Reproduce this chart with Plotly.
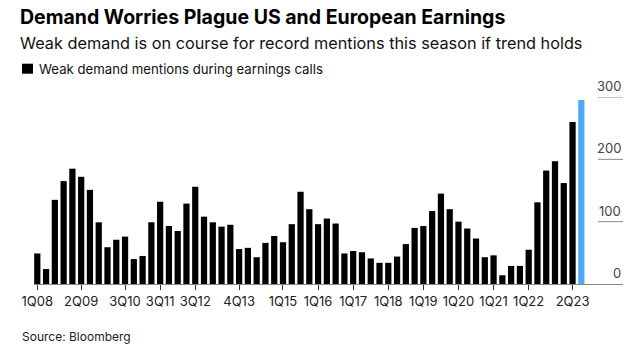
import plotly.graph_objects as go

quarters = [
    "1Q08", "2Q08", "3Q08", "4Q08", "1Q09", "2Q09", "3Q09", "4Q09",
    "1Q10", "2Q10", "3Q10", "4Q10", "1Q11", "2Q11", "3Q11", "4Q11",
    "1Q12", "2Q12", "3Q12", "4Q12", "1Q13", "2Q13", "3Q13", "4Q13",
    "1Q14", "2Q14", "3Q14", "4Q14", "1Q15", "2Q15", "3Q15", "4Q15",
    "1Q16", "2Q16", "3Q16", "4Q16", "1Q17", "2Q17", "3Q17", "4Q17",
    "1Q18", "2Q18", "3Q18", "4Q18", "1Q19", "2Q19", "3Q19", "4Q19",
    "1Q20", "2Q20", "3Q20", "4Q20", "1Q21", "2Q21", "3Q21", "4Q21",
    "1Q22", "2Q22", "3Q22", "4Q22", "1Q23", "2Q23", "3Q23",
]
mentions = [
    49, 24, 135, 165, 185, 172, 151, 99,
    59, 71, 76, 40, 45, 99, 132, 93,
    85, 129, 156, 108, 99, 92, 95, 56,
    58, 43, 66, 77, 67, 96, 148, 120,
    96, 105, 97, 49, 53, 51, 41, 34,
    34, 44, 64, 90, 93, 117, 145, 120,
    100, 89, 73, 43, 46, 14, 29, 29,
    55, 131, 182, 197, 162, 260, 295,
]
x_tick_labels = ["1Q08", "2Q09", "3Q10", "3Q11", "3Q12", "4Q13", "1Q15", "1Q16",
                 "1Q17", "1Q18", "1Q19", "1Q20", "1Q21", "1Q22", "2Q23"]
y_ticks = [0, 100, 200, 300]

title = "Demand Worries Plague US and European Earnings"
subtitle = "Weak demand is on course for record mentions this season if trend holds"
legend_label = "Weak demand mentions during earnings calls"
source = "Source: Bloomberg"

BLACK = "#000000"
BLUE = "#4fa8f6"
colors = [BLACK] * (len(quarters) - 1) + [BLUE]

W, H = 640, 348
L, R = 34, 623
T, B = 97.3, 284.3
FONT = "Inter, 'Liberation Sans', Arial, sans-serif"


def px(xp):
    return (xp - L) / (R - L)


def py(yp):
    return (B - yp) / (B - T)


fig = go.Figure(
    go.Bar(
        x=quarters,
        y=mentions,
        marker=dict(color=colors, line=dict(width=0)),
        showlegend=False,
        hoverinfo="x+y",
    )
)

fig.update_layout(
    width=W,
    height=H,
    margin=dict(l=L, r=W - R, t=T, b=H - B, pad=0),
    paper_bgcolor="white",
    plot_bgcolor="white",
    bargap=0.29,
    font=dict(family=FONT, color="#222"),
    showlegend=False,
)

fig.update_xaxes(
    type="category",
    categoryorder="array",
    categoryarray=quarters,
    range=[-0.376, 66.75],
    tickmode="array",
    tickvals=x_tick_labels,
    ticktext=x_tick_labels,
    ticks="outside",
    ticklen=5,
    tickwidth=1,
    tickcolor="#333",
    showline=True,
    linecolor="#888",
    linewidth=1,
    showgrid=False,
    zeroline=False,
    tickfont=dict(size=13, color="#222"),
    fixedrange=True,
)

fig.update_yaxes(
    side="right",
    range=[0, 300],
    showticklabels=False,
    ticks="",
    showgrid=False,
    zeroline=False,
    showline=False,
    fixedrange=True,
)

# short gridline segments under the right-hand labels, with labels above them
for v in y_ticks:
    if v > 0:
        fig.add_shape(
            type="line", xref="paper", yref="y",
            x0=px(598), x1=1.0, y0=v, y1=v,
            line=dict(color="#888", width=1),
        )
    fig.add_annotation(
        text=str(v), x=1.0, y=v, xref="paper", yref="y",
        xanchor="right", yanchor="bottom", yshift=1, showarrow=False,
        font=dict(size=13, color="#444", family=FONT),
    )

# legend swatch
fig.add_shape(
    type="rect", xref="paper", yref="paper",
    x0=px(22), x1=px(33), y0=py(74), y1=py(64),
    fillcolor=BLACK, line=dict(width=0),
)

annos = [
    dict(text=f"<b>{title}</b>", x=px(18), y=py(17), size=19.5, color="#000"),
    dict(text=subtitle, x=px(18), y=py(43), size=16.3, color="#111"),
    dict(text=legend_label, x=px(37), y=py(69), size=13.2, color="#111"),
    dict(text=source, x=px(20), y=py(337), size=12, color="#222"),
]
for a in annos:
    fig.add_annotation(
        text=a["text"], x=a["x"], y=a["y"], xref="paper", yref="paper",
        xanchor="left", yanchor="middle", showarrow=False,
        font=dict(size=a["size"], color=a["color"], family=FONT),
    )

fig.write_html("out.html")
